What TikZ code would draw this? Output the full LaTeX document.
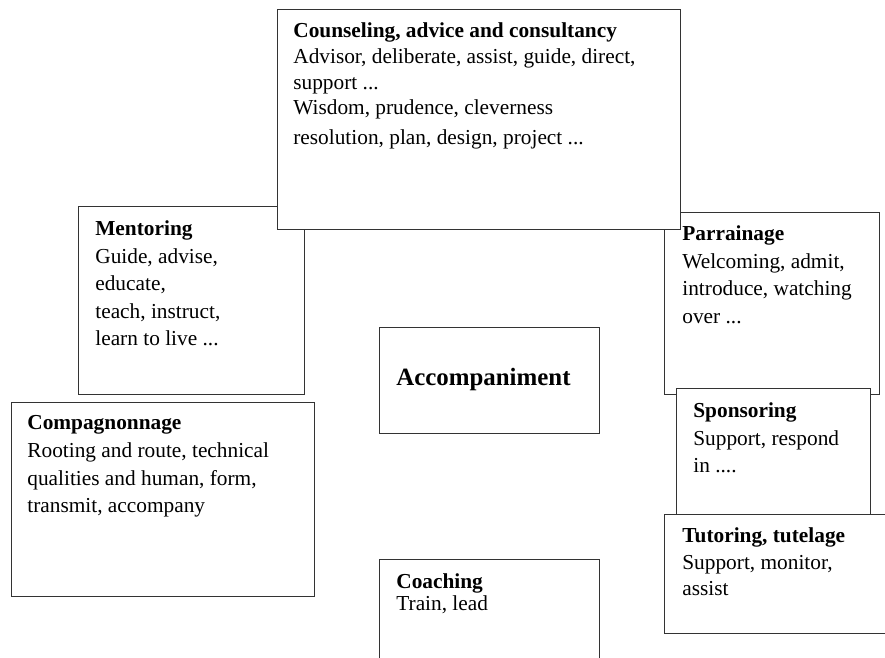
\documentclass[tikz,border=0pt]{standalone}
\usepackage{fontspec}
\setmainfont{Liberation Serif}
\newdimen\px
\px=0.5625pt

\begin{document}
\begin{tikzpicture}[x=0.5625pt,y=-0.5625pt,
	box/.style={draw=black!80,line width=0.7pt,fill=white,inner sep=0pt,anchor=north west},
	txt/.style={anchor=north west,inner sep=0pt,align=left,font=\fontsize{12}{15.5}\selectfont}]
	\clip (0,0) rectangle (885,657);
	% boxes behind
	\node[box,minimum width=226*\px,minimum height=188*\px] (ment) at (78,206) {};
	\node[txt] (mentxt) at ([shift={(17,14.5)}]ment.north west) {\textbf{Mentoring}\\Guide, advise,\\educate,\\teach, instruct,\\learn to live ...};
	\node[box,minimum width=215*\px,minimum height=182*\px] (parr) at (664,212) {};
	\node[txt] (parrtxt) at ([shift={(18,13.5)}]parr.north west) {\textbf{Parrainage}\\Welcoming, admit,\\introduce, watching\\over ...};
	% top box
	\node[box,minimum width=403*\px,minimum height=220*\px] (couns) at (277,9) {};
	\node[txt,font=\fontsize{12}{14.5}\selectfont] (counstxt) at ([shift={(16,13.5)}]couns.north west) {\textbf{Counseling, advice and consultancy}\\Advisor, deliberate, assist, guide, direct,\\support ...\\Wisdom, prudence, cleverness\\[2pt]resolution, plan, design, project ...};
	\node[box,minimum width=303*\px,minimum height=194*\px] (comp) at (11,402) {};
	\node[txt] (comptxt) at ([shift={(16,13.5)}]comp.north west) {\textbf{Compagnonnage}\\Rooting and route, technical\\qualities and human, form,\\transmit, accompany};
	% centre
	\node[box,minimum width=220*\px,minimum height=106*\px] (acc) at (379,327) {};
	\node[txt,font=\fontsize{14}{16}\selectfont\bfseries] (acctxt) at ([shift={(17,41)}]acc.north west) {Accompaniment};
	% right column
	\node[box,minimum width=194*\px,minimum height=126*\px] (spons) at (676,388) {};
	\node[txt] (sponstxt) at ([shift={(17,14.5)}]spons.north west) {\textbf{Sponsoring}\\Support, respond\\in ....};
	\node[box,minimum width=231*\px,minimum height=119*\px] (tut) at (664,514) {};
	\node[txt,font=\fontsize{12}{15}\selectfont] (tuttxt) at ([shift={(18,13.5)}]tut.north west) {\textbf{Tutoring, tutelage}\\Support, monitor,\\assist};
	\node[box,minimum width=220*\px,minimum height=110*\px] (coach) at (379,559) {};
	\node[txt,font=\fontsize{12}{12.4}\selectfont] (coachtxt) at ([shift={(17,14.5)}]coach.north west) {\textbf{Coaching}\\Train, lead};
\end{tikzpicture}
\end{document}
